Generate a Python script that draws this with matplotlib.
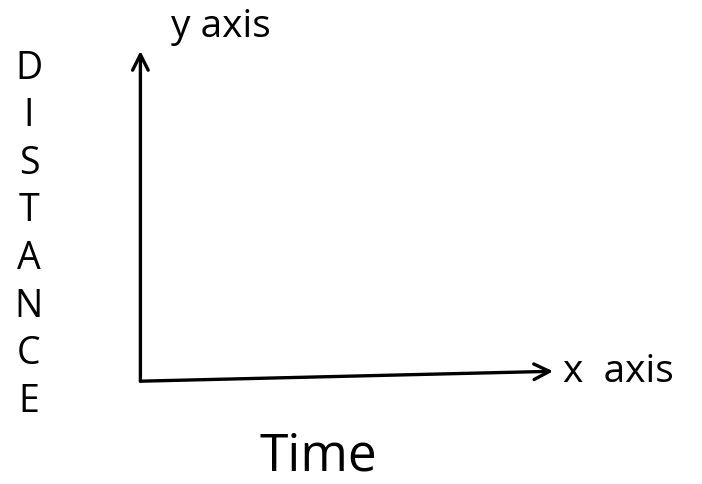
import matplotlib
matplotlib.use("Agg")
import matplotlib.pyplot as plt

# labels of the sketch
y_word = "DISTANCE"
x_word = "Time"
x_axis_tag = "x  axis"
y_axis_tag = "y axis"

plt.rcParams['font.family'] = ['Open Sans', 'DejaVu Sans']

fig = plt.figure(figsize=(7.02, 4.85), dpi=100)
ax = fig.add_axes([0.200, 0.212, 0.588, 0.681])
ax.set_xlim(0, 1)
ax.set_ylim(0, 1)
for s in ax.spines.values():
    s.set_visible(False)
ax.set_xticks([])
ax.set_yticks([])

arrow = dict(arrowstyle='->', lw=2.4, color='black', mutation_scale=28, shrinkA=0, shrinkB=0)
ax.annotate('', xy=(0, 1), xytext=(0, 0), xycoords='axes fraction', arrowprops=arrow)
ax.annotate('', xy=(1, 0.03), xytext=(0, 0), xycoords='axes fraction', arrowprops=arrow)

ax.annotate(y_axis_tag, xy=(0, 1), xycoords='axes fraction', xytext=(22, 4),
            textcoords='offset points', fontsize=28, va='bottom', ha='left')
ax.annotate(x_axis_tag, xy=(1, 0.03), xycoords='axes fraction', xytext=(7, 0),
            textcoords='offset points', fontsize=28, va='center', ha='left')

ax.set_xlabel(x_word, fontsize=37)
ax.xaxis.set_label_coords(0.43, -0.15)
ax.set_ylabel('\n'.join(y_word), fontsize=27, rotation=0, va='center', ha='center',
              linespacing=1.33)
ax.yaxis.set_label_coords(-0.27, 0.445)

fig.savefig('out.png', dpi=100, facecolor='white')
